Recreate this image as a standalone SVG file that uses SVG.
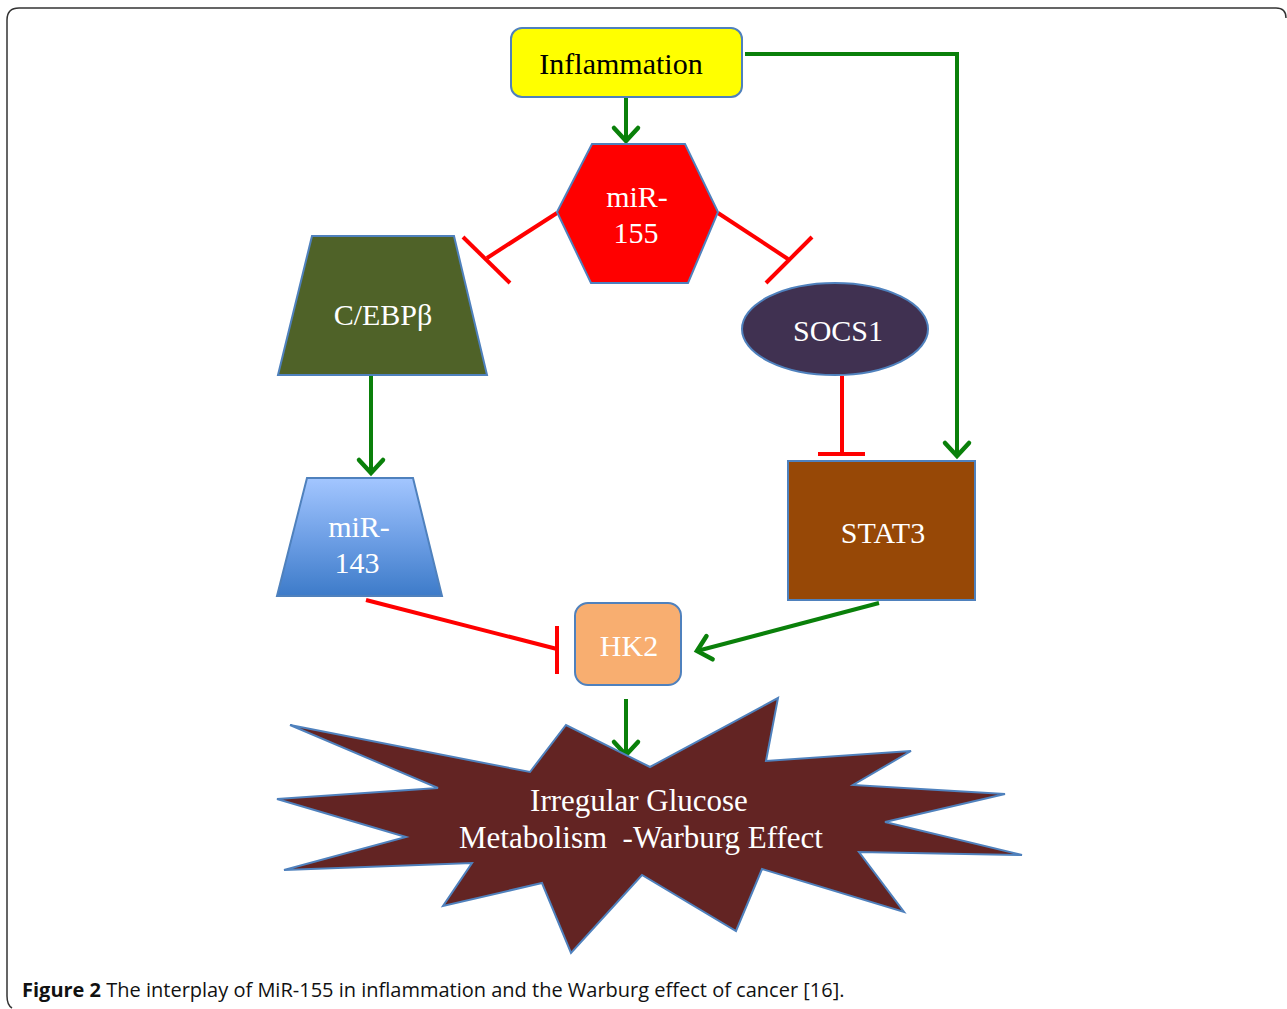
<svg xmlns="http://www.w3.org/2000/svg" width="1287" height="1009" viewBox="0 0 1287 1009">
  <defs>
    <style>
      .node { stroke: #4F81BD; stroke-width: 2; }
      .lbl { font-family: "Liberation Serif", "Times New Roman", serif; font-size: 30px; fill: #FFFFFF; text-anchor: middle; }
      .big { font-size: 31px; }
      .act { stroke: #0A800A; stroke-width: 4; fill: none; }
      .inh { stroke: #FF0000; stroke-width: 4; fill: none; }
      .cap { font-family: "Open Sans", "Liberation Sans", sans-serif; font-size: 20px; fill: #111111; }
    </style>
    <marker id="arr" markerUnits="userSpaceOnUse" markerWidth="40" markerHeight="40" viewBox="-20 -20 40 40" refX="0" refY="0" orient="auto">
      <path d="M -13 -12 L 0 0 L -13 12" fill="none" stroke="#0A800A" stroke-width="4.5" stroke-linecap="round" stroke-linejoin="miter"/>
    </marker>
    <linearGradient id="blueGrad" x1="0" y1="0" x2="0" y2="1">
      <stop offset="0" stop-color="#A3C6FF"/>
      <stop offset="0.5" stop-color="#6FA0E6"/>
      <stop offset="1" stop-color="#3D7BC9"/>
    </linearGradient>
  </defs>

  <rect width="1287" height="1009" fill="#FFFFFF"/>
  <path d="M 1286 18 Q 1286 8 1276 8 L 19 8 Q 7 8 7 20 L 7 996 Q 7 1005 12 1008" fill="none" stroke="#333333" stroke-width="1.5"/>

  <g id="connectors">
    <line class="act" x1="626" y1="97" x2="626" y2="141" marker-end="url(#arr)"/>
    <polyline class="act" points="745,54 957,54 957,456" marker-end="url(#arr)"/>
    <line class="inh" x1="557" y1="213" x2="487" y2="258"/>
    <line class="inh" x1="463" y1="237" x2="510" y2="283"/>
    <line class="inh" x1="718" y1="213" x2="788" y2="259"/>
    <line class="inh" x1="812" y1="237" x2="766" y2="283"/>
    <line class="act" x1="371" y1="376" x2="371" y2="473" marker-end="url(#arr)"/>
    <line class="inh" x1="842" y1="376" x2="842" y2="454"/>
    <line class="inh" x1="818" y1="454" x2="865" y2="454"/>
    <line class="inh" x1="366" y1="600" x2="557" y2="649"/>
    <line class="inh" x1="557" y1="626" x2="557" y2="674"/>
    <line class="act" x1="879" y1="603" x2="697" y2="651" marker-end="url(#arr)"/>
    <line class="act" x1="626" y1="699" x2="626" y2="755" marker-end="url(#arr)"/>
  </g>

  <g id="inflammation">
    <rect class="node" x="511" y="28" width="231" height="69" rx="11" fill="#FFFF00"/>
    <text class="lbl" x="621" y="74" style="fill:#000000">Inflammation</text>
  </g>

  <g id="mir155">
    <polygon class="node" points="592,144 685,144 718,212 688,283 591,283 557,212" fill="#FF0000"/>
    <text class="lbl" x="637" y="207">miR-</text>
    <text class="lbl" x="636" y="243">155</text>
  </g>

  <g id="cebpb">
    <polygon class="node" points="312,236 454,236 487,375 278,375" fill="#4F6228"/>
    <text class="lbl" x="383" y="325">C/EBPβ</text>
  </g>

  <g id="socs1">
    <ellipse class="node" cx="835" cy="329" rx="93" ry="46" fill="#403151"/>
    <text class="lbl" x="838" y="341">SOCS1</text>
  </g>

  <g id="mir143">
    <polygon class="node" points="307,478 413,478 442,596 277,596" fill="url(#blueGrad)"/>
    <text class="lbl" x="359" y="537">miR-</text>
    <text class="lbl" x="357" y="573">143</text>
  </g>

  <g id="stat3">
    <rect class="node" x="788" y="461" width="187" height="139" fill="#974806"/>
    <text class="lbl" x="883" y="543">STAT3</text>
  </g>

  <g id="hk2">
    <rect class="node" x="575" y="603" width="106" height="82" rx="13" fill="#F8AE70"/>
    <text class="lbl" x="629" y="656">HK2</text>
  </g>

  <g id="warburg">
    <polygon class="node" points="290,725 530,772 566,725 650,767 778,698 766,761 911,751 853,785 1005,794 885,822 1022,855 859,852 904,912 762,869 736,931 642,875 571,953 542,883 443,906 472,863 284,870 406,837 277,799 438,788" fill="#632423"/>
    <text class="lbl big" x="639" y="811">Irregular Glucose</text>
    <text class="lbl big" x="641" y="848" xml:space="preserve">Metabolism  -Warburg Effect</text>
  </g>

  <text class="cap" x="22" y="997"><tspan font-weight="bold">Figure 2</tspan> The interplay of MiR-155 in inflammation and the Warburg effect of cancer [16].</text>
</svg>
